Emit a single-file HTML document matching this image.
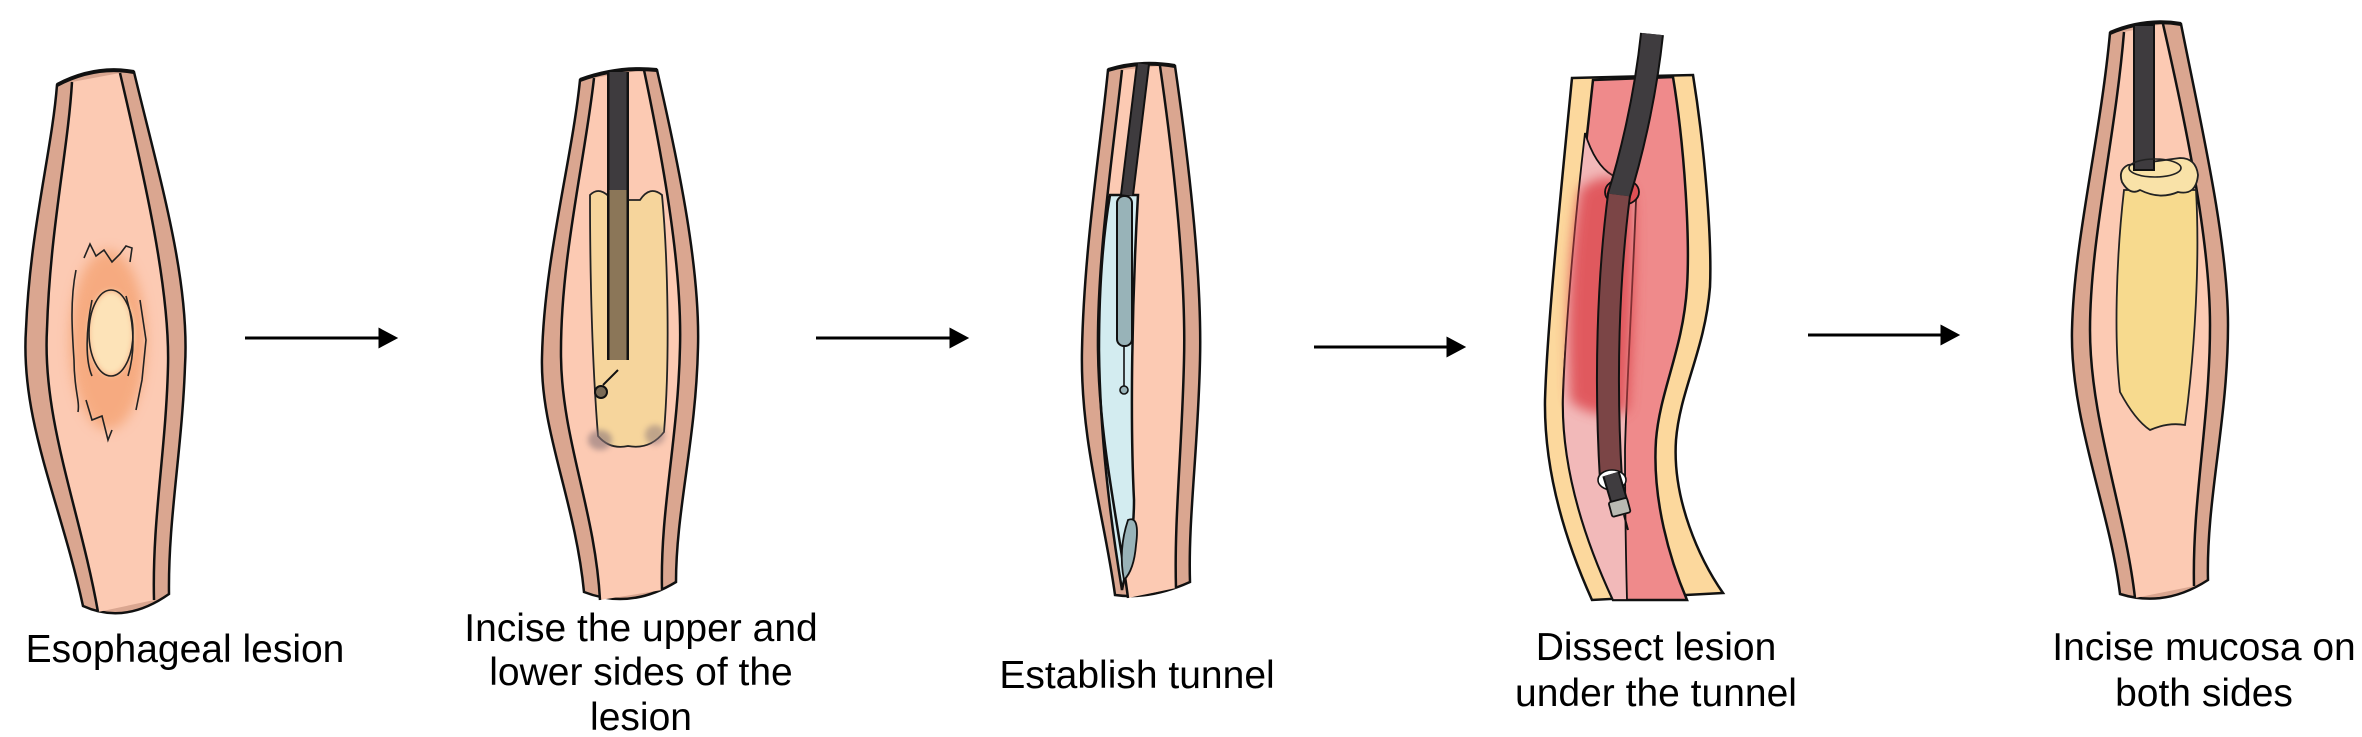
<!DOCTYPE html>
<html><head><meta charset="utf-8"><style>
html,body{margin:0;padding:0;background:#fff;}
svg{display:block;}
text{font-family:"Liberation Sans",sans-serif;font-size:39px;fill:#000;text-anchor:middle;}
</style></head><body>
<svg width="2362" height="737" viewBox="0 0 2362 737" xmlns="http://www.w3.org/2000/svg">
<defs>
<filter id="bl" x="-50%" y="-50%" width="200%" height="200%"><feGaussianBlur stdDeviation="6"/></filter>
<filter id="bl2" x="-50%" y="-50%" width="200%" height="200%"><feGaussianBlur stdDeviation="3"/></filter>
<marker id="ah" markerWidth="10" markerHeight="10" refX="9" refY="5" orient="auto" markerUnits="userSpaceOnUse"><path d="M0,0 L10,5 L0,10Z" fill="#000"/></marker>
</defs>
<g stroke="#000" stroke-width="3" fill="none">
<line x1="245" y1="338" x2="380" y2="338"/><path d="M380,330 L395,338 L380,346Z" fill="#000"/>
<line x1="816" y1="338" x2="951" y2="338"/><path d="M951,330 L966,338 L951,346Z" fill="#000"/>
<line x1="1314" y1="347" x2="1448" y2="347"/><path d="M1448,339 L1463,347 L1448,355Z" fill="#000"/>
<line x1="1808" y1="335" x2="1942" y2="335"/><path d="M1942,327 L1957,335 L1942,343Z" fill="#000"/>
</g>

<!-- Tube 1 -->
<g stroke="#111" stroke-width="2.5">
<path d="M57,85 Q95,65 134,72 C160,180 190,280 185,366 C182,450 168,520 169,594 Q125,625 83,606 C60,500 20,420 26,329 C30,230 52,150 57,85Z" fill="#daa690"/>
<path d="M72,82 L120,73 C145,180 170,290 168,366 C166,450 152,520 154,600 L98,612 C80,510 42,420 47,329 C50,230 68,150 72,82Z" fill="#fccab3" stroke="none"/>
<path d="M72,82 C68,150 50,230 47,329 C42,420 80,510 98,612" fill="none"/>
<path d="M120,73 C145,180 170,290 168,366 C166,450 152,520 154,600" fill="none"/>
<path d="M57,85 Q95,65 134,72" fill="none" stroke-width="4"/>
</g>
<ellipse cx="108" cy="340" rx="38" ry="90" fill="#f4a070" opacity=".75" filter="url(#bl)"/>
<ellipse cx="111" cy="333" rx="22" ry="42" fill="#fde3b8" filter="url(#bl2)"/>
<path d="M84,258 L90,244 L96,256 L104,250 L112,262 L120,254 L126,246 L132,248 L130,262 M92,300 C86,330 85,360 92,376 M126,296 C136,330 134,356 128,376 M76,270 C70,300 72,330 74,360 C74,390 80,400 78,412 M86,400 L92,420 L102,416 L108,440 L112,430 M140,300 L146,340 L142,380 L136,410" stroke="#222" stroke-width="1.6" fill="none"/>
<ellipse cx="111" cy="333" rx="22" ry="43" stroke="#222" stroke-width="1.6" fill="none"/>

<!-- Tube 2 -->
<g stroke="#111" stroke-width="2.5">
<path d="M580,80 Q618,66 657,70 C680,170 700,270 698,347 C696,440 676,510 676,582 Q630,610 584,592 C575,500 540,430 542,357 C544,260 572,160 580,80Z" fill="#daa690"/>
<path d="M594,78 L644,70 C665,170 682,270 680,347 C678,440 660,510 662,590 L600,600 C595,510 562,440 561,357 C560,260 585,160 594,78Z" fill="#fccab3" stroke="none"/>
<path d="M594,78 C585,160 560,260 561,357 C562,440 595,510 600,600" fill="none"/>
<path d="M644,70 C665,170 682,270 680,347 C678,440 660,510 662,590" fill="none"/>
<path d="M580,80 Q618,66 657,70" fill="none" stroke-width="4"/>
</g>
<path d="M590,195 Q600,185 612,200 L640,200 Q650,185 662,195 C668,260 670,360 664,432 Q650,450 628,446 Q610,450 598,436 C592,360 590,280 590,195Z" fill="#f6d59c" stroke="#222" stroke-width="1.8"/>
<ellipse cx="600" cy="440" rx="12" ry="10" fill="#8a7578" opacity=".6" filter="url(#bl2)"/>
<ellipse cx="655" cy="435" rx="10" ry="10" fill="#8a7578" opacity=".5" filter="url(#bl2)"/>
<path d="M618,72 L618,360" stroke="#111" stroke-width="22"/>
<path d="M618,72 L618,190" stroke="#3e3b3e" stroke-width="17"/>
<path d="M618,190 L618,360" stroke="#8b7658" stroke-width="17"/>
<path d="M618,370 L603,385" stroke="#111" stroke-width="2"/>
<circle cx="601" cy="392" r="6" fill="#7a6a55" stroke="#111" stroke-width="2"/>

<!-- Tube 3 -->
<g stroke="#111" stroke-width="2.5">
<path d="M1108,70 Q1140,60 1175,66 C1190,170 1202,280 1200,360 C1198,450 1188,520 1190,582 Q1150,600 1115,595 C1105,520 1080,440 1082,350 C1084,250 1100,150 1108,70Z" fill="#daa690"/>
<path d="M1122,70 L1160,66 C1175,170 1186,280 1184,360 C1182,450 1174,520 1176,588 L1128,598 C1118,520 1099,440 1098,350 C1097,260 1112,160 1122,70Z" fill="#fccab3" stroke="none"/>
<path d="M1110,195 L1138,195 C1132,300 1130,420 1134,500 C1134,540 1126,570 1122,590 C1112,530 1100,440 1099,350 C1099,280 1104,230 1110,195Z" fill="#d3ecf0"/>
<path d="M1122,70 C1112,160 1097,260 1098,350 C1099,440 1118,520 1128,598" fill="none"/>
<path d="M1160,66 C1175,170 1186,280 1184,360 C1182,450 1174,520 1176,588" fill="none"/>
<path d="M1108,70 Q1140,60 1175,66" fill="none" stroke-width="4"/>
<path d="M1128,520 Q1140,515 1136,545 Q1134,570 1124,580 Q1118,550 1128,520Z" fill="#98b3b8" stroke-width="1.8"/>
</g>
<path d="M1143,64 L1127,195" stroke="#111" stroke-width="14"/>
<path d="M1143,64 L1127,195" stroke="#3e3b3e" stroke-width="10"/>
<rect x="1117" y="196" width="15" height="150" rx="7" fill="#98b3b8" stroke="#111" stroke-width="2"/>
<line x1="1124" y1="346" x2="1124" y2="386" stroke="#111" stroke-width="1.6"/>
<circle cx="1124" cy="390" r="4" fill="#98b3b8" stroke="#111" stroke-width="1.6"/>

<!-- Tube 4 -->
<g stroke="#111" stroke-width="2.5">
<path d="M1572,78 L1693,75 C1705,150 1712,240 1710,287 C1705,350 1680,390 1676,440 C1672,500 1700,560 1723,593 L1592,600 C1565,540 1544,470 1545,400 C1547,330 1560,200 1572,78Z" fill="#fcd89d"/>
<path d="M1593,80 L1673,77 C1685,150 1690,240 1687,287 C1683,350 1660,390 1656,440 C1652,500 1670,560 1687,600 L1613,600 C1585,540 1562,470 1563,400 C1565,330 1580,200 1593,80Z" fill="#ef8a8b"/>
<path d="M1585,133 Q1595,165 1612,175 L1636,200 C1632,300 1626,400 1625,450 C1625,520 1626,560 1627,600 L1613,600 C1585,540 1562,470 1563,400 C1565,330 1575,220 1585,133Z" fill="#f2b9b9" stroke-width="1.8"/>
</g>
<path d="M1580,190 C1600,170 1630,175 1634,200 C1636,280 1632,360 1628,410 C1610,420 1580,412 1570,400 C1566,320 1570,240 1580,190Z" fill="#de4a50" opacity=".85" filter="url(#bl)"/>
<ellipse cx="1622" cy="192" rx="17" ry="13" fill="#e05055" stroke="#111" stroke-width="1.8"/>
<path d="M1652,34 C1645,100 1630,160 1618,198" stroke="#111" stroke-width="24" fill="none"/>
<path d="M1652,34 C1645,100 1630,160 1618,198" stroke="#3f3c3f" stroke-width="20" fill="none"/>
<path d="M1619,195 C1608,280 1605,380 1611,480" stroke="#111" stroke-width="24" fill="none"/>
<path d="M1619,195 C1608,280 1605,380 1611,480" stroke="#7b4546" stroke-width="20" fill="none"/>
<ellipse cx="1612" cy="480" rx="14" ry="10" fill="#fff" stroke="#111" stroke-width="1.6"/>
<path d="M1611,474 L1620,504" stroke="#111" stroke-width="18"/>
<path d="M1611,474 L1620,504" stroke="#3f3c3f" stroke-width="14"/>
<rect x="1610" y="500" width="19" height="15" rx="2" fill="#b9bab2" stroke="#111" stroke-width="1.8" transform="rotate(-15 1619 507)"/>
<line x1="1624" y1="515" x2="1628" y2="530" stroke="#111" stroke-width="2"/>

<!-- Tube 5 -->
<g stroke="#111" stroke-width="2.5">
<path d="M2110,33 Q2145,18 2181,24 C2200,120 2228,240 2228,325 C2228,420 2206,500 2208,580 Q2165,608 2120,594 C2110,510 2070,420 2072,330 C2074,240 2100,140 2110,33Z" fill="#daa690"/>
<path d="M2124,32 L2163,24 C2185,120 2210,240 2210,325 C2210,420 2192,500 2194,586 L2135,598 C2125,510 2090,420 2090,330 C2090,240 2115,140 2124,32Z" fill="#fccab3" stroke="none"/>
<path d="M2124,32 C2115,140 2090,240 2090,330 C2090,420 2125,510 2135,598" fill="none"/>
<path d="M2163,24 C2185,120 2210,240 2210,325 C2210,420 2192,500 2194,586" fill="none"/>
<path d="M2110,33 Q2145,18 2181,24" fill="none" stroke-width="4"/>
</g>
<path d="M2124,190 C2116,260 2114,340 2120,392 Q2135,420 2150,430 Q2168,422 2185,425 C2195,350 2200,260 2196,190 Z" fill="#f7da8e" stroke="#222" stroke-width="1.8"/>
<path d="M2128,165 Q2118,170 2122,182 Q2130,196 2140,190 Q2160,200 2178,192 Q2196,196 2198,175 Q2196,158 2180,158 L2128,165Z" fill="#f9e2a8" stroke="#222" stroke-width="1.8"/>
<rect x="2134" y="25" width="20" height="145" fill="#3e3b3e" stroke="#111" stroke-width="2"/>
<ellipse cx="2155" cy="168" rx="26" ry="9" fill="none" stroke="#222" stroke-width="1.6"/>

<!-- Labels -->
<text x="185" y="662">Esophageal lesion</text>
<text x="641" y="641">Incise the upper and</text>
<text x="641" y="685">lower sides of the</text>
<text x="641" y="730">lesion</text>
<text x="1137" y="688">Establish tunnel</text>
<text x="1656" y="660">Dissect lesion</text>
<text x="1656" y="706">under the tunnel</text>
<text x="2204" y="660">Incise mucosa on</text>
<text x="2204" y="706">both sides</text>
</svg>
</body></html>
